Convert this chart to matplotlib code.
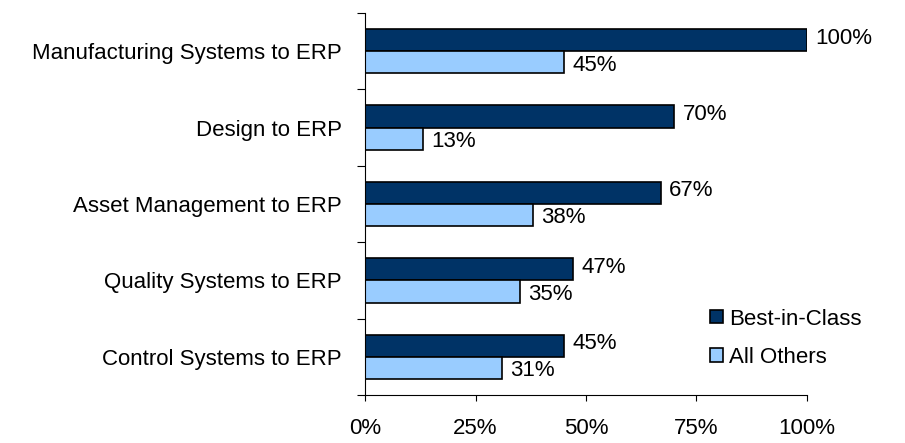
import numpy as np
import matplotlib.pyplot as plt
from matplotlib.ticker import FixedLocator

plt.rcParams['font.family'] = ['Liberation Sans', 'DejaVu Sans']

categories = ['Manufacturing Systems to ERP', 'Design to ERP', 'Asset Management to ERP',
              'Quality Systems to ERP', 'Control Systems to ERP']
best_in_class = [100, 70, 67, 47, 45]
all_others = [45, 13, 38, 35, 31]
x_ticks = [0, 25, 50, 75, 100]

dark = '#003366'
light = '#99CCFF'
FS = 16

fig = plt.figure(figsize=(9.05, 4.43), dpi=100)
ax = fig.add_axes([0.4036, 0.1084, 0.4878, 0.8623])

y = np.arange(len(categories))
h = 0.29
ax.barh(y - h / 2, best_in_class, height=h, color=dark, edgecolor='black', linewidth=1.2, label='Best-in-Class')
ax.barh(y + h / 2, all_others, height=h, color=light, edgecolor='black', linewidth=1.2, label='All Others')

# value labels just right of each bar end
for yi, v in zip(y, best_in_class):
    ax.annotate(f'{v}%', (v, yi - h / 2), xytext=(6, 1.5), textcoords='offset points',
                va='center', ha='left', fontsize=FS)
for yi, v in zip(y, all_others):
    ax.annotate(f'{v}%', (v, yi + h / 2), xytext=(6, -2), textcoords='offset points',
                va='center', ha='left', fontsize=FS)

ax.set_ylim(len(categories) - 0.5, -0.5)
ax.set_xlim(0, 100)
ax.set_yticks(y)
ax.set_yticklabels(categories, fontsize=FS)
ax.yaxis.set_minor_locator(FixedLocator(np.arange(-0.5, len(categories), 1)))
ax.tick_params(axis='y', which='major', length=0, pad=17)
ax.tick_params(axis='y', which='minor', length=6, width=0.8)
ax.set_xticks(x_ticks)
ax.set_xticklabels([f'{t}%' for t in x_ticks], fontsize=FS)
ax.tick_params(axis='x', length=4.5, width=0.8, pad=12)

for s in ['top', 'right']:
    ax.spines[s].set_visible(False)
ax.spines['left'].set_linewidth(0.8)
ax.spines['bottom'].set_linewidth(0.8)

ax.legend(loc='lower right', bbox_to_anchor=(1.16, 0.03), frameon=False, fontsize=FS,
          handlelength=0.55, handleheight=0.55, handletextpad=0.3, labelspacing=0.78,
          borderpad=0.2)

fig.savefig('out.png', dpi=100)
